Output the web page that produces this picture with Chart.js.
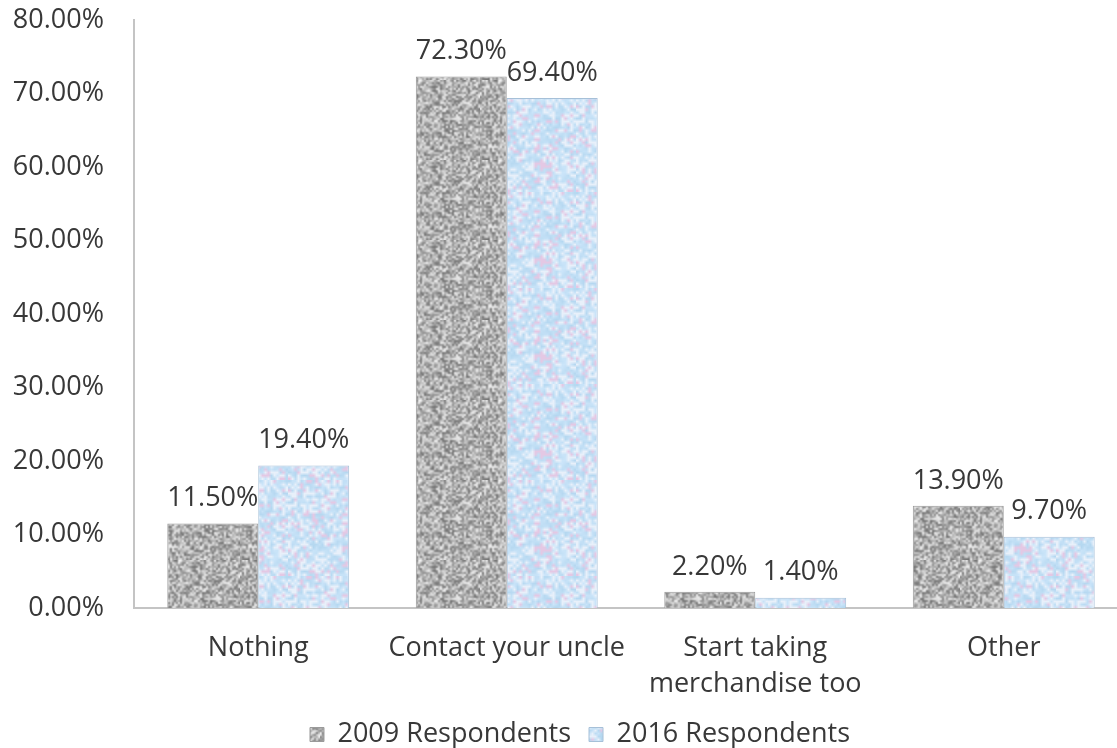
<!DOCTYPE html>
<html>
<head>
<meta charset="utf-8">
<script src="https://cdn.jsdelivr.net/npm/chart.js@4.4.1/dist/chart.umd.min.js"></script>
<style>
    html, body { margin: 0; padding: 0; background: #fff; overflow: hidden; }
    #wrap { width: 1117px; height: 748px; overflow: hidden; }
    canvas { display: block; }
</style>
</head>
<body>
<div id="wrap"><canvas id="grafico" width="1128" height="758"></canvas></div>
<script>
// --- Datos ---
const categorias = ['Nothing', 'Contact your uncle', ['Start taking', 'merchandise too'], 'Other'];
const resp2009 = [11.5, 72.3, 2.2, 13.9];
const resp2016 = [19.4, 69.4, 1.4, 9.7];
const etiquetasSeries = ['2009 Respondents', '2016 Respondents'];
const ejeMin = 0, ejeMax = 80, ejePaso = 10;

const colorTexto = '#383838';
const fuente = "'Open Sans', sans-serif";
const tamFuente = 27;

// generador pseudo-aleatorio con semilla, solo para la textura
function lcg(seed) {
    let s = seed >>> 0;
    return () => { s = (s * 1664525 + 1013904223) >>> 0; return s / 4294967296; };
}

// crea un mosaico: ruido pequeño escalado con suavizado (manchas borrosas)
function textura(seed, celdas, escala, colorDe) {
    const chico = document.createElement('canvas');
    chico.width = celdas; chico.height = celdas;
    const cctx = chico.getContext('2d');
    const rnd = lcg(seed);
    for (let y = 0; y < celdas; y++) {
        for (let x = 0; x < celdas; x++) {
            cctx.fillStyle = colorDe(rnd);
            cctx.fillRect(x, y, 1, 1);
        }
    }
    const c = document.createElement('canvas');
    c.width = celdas * escala; c.height = celdas * escala;
    const ctx = c.getContext('2d');
    ctx.imageSmoothingEnabled = true;
    ctx.drawImage(chico, 0, 0, c.width, c.height);
    return ctx.createPattern(c, 'repeat');
}

// 2009: gris granulado
const patronGris = textura(7, 40, 2, (rnd) => {
    const v = Math.round(115 + rnd() * 125);
    return `rgb(${v},${v},${v})`;
});

// 2016: celeste con manchas blancas y rosadas
const patronCeleste = textura(31, 32, 3, (rnd) => {
    const r = rnd();
    if (r < 0.55) {
        const t = rnd();
        return `rgb(${Math.round(180 + t * 25)},${Math.round(215 + t * 15)},${Math.round(240 + t * 10)})`;
    } else if (r < 0.85) {
        return 'rgb(232,240,250)';
    }
    return 'rgb(228,200,228)';
});

// etiquetas de valor sobre cada barra
const etiquetasBarras = {
    id: 'etiquetasBarras',
    afterDatasetsDraw(chart) {
        const ctx = chart.ctx;
        ctx.save();
        ctx.font = `${tamFuente}px ${fuente}`;
        ctx.fillStyle = colorTexto;
        ctx.textAlign = 'center';
        ctx.textBaseline = 'middle';
        chart.data.datasets.forEach((ds, i) => {
            chart.getDatasetMeta(i).data.forEach((barra, j) => {
                ctx.fillText(ds.data[j].toFixed(2) + '%', barra.x, barra.y - 25);
            });
        });
        ctx.restore();
    }
};

// la leyenda del original está algo corrida a la derecha
const moverLeyenda = {
    id: 'moverLeyenda',
    afterLayout(chart) {
        if (chart.legend) {
            chart.legend.left += 16;
            chart.legend.right += 16;
        }
    }
};

new Chart(document.getElementById('grafico'), {
    type: 'bar',
    data: {
        labels: categorias,
        datasets: [
            {
                label: etiquetasSeries[0],
                data: resp2009,
                backgroundColor: patronGris,
                borderColor: '#9a9a9a',
                borderWidth: 1,
                borderSkipped: 'bottom'
            },
            {
                label: etiquetasSeries[1],
                data: resp2016,
                backgroundColor: patronCeleste,
                borderColor: '#a6c0d8',
                borderWidth: 1,
                borderSkipped: 'bottom'
            }
        ]
    },
    options: {
        responsive: false,
        animation: false,
        devicePixelRatio: 1,
        layout: { padding: { top: 20, left: 0, right: 0, bottom: 0 } },
        datasets: { bar: { categoryPercentage: 0.732, barPercentage: 1.0 } },
        plugins: {
            legend: {
                position: 'bottom',
                labels: {
                    color: colorTexto,
                    font: { family: fuente, size: tamFuente },
                    boxWidth: 14,
                    boxHeight: 14,
                    padding: 18
                }
            },
            tooltip: { enabled: false }
        },
        scales: {
            x: {
                grid: { display: false, drawTicks: false },
                border: { display: true, color: '#c4c4c4', width: 2 },
                ticks: {
                    color: colorTexto,
                    font: { family: fuente, size: tamFuente, lineHeight: 1.33 },
                    padding: 22,
                    maxRotation: 0,
                    autoSkip: false
                },
                afterFit: (escala) => { escala.height = 95; }
            },
            y: {
                min: ejeMin,
                max: ejeMax,
                grid: { display: false, drawTicks: false },
                border: { display: true, color: '#c4c4c4', width: 2 },
                ticks: {
                    stepSize: ejePaso,
                    color: colorTexto,
                    font: { family: fuente, size: tamFuente },
                    padding: 30,
                    callback: (v) => v.toFixed(2) + '%'
                },
                afterFit: (escala) => {
                    escala.width = 134;
                    escala.paddingTop = 0;
                    escala.paddingBottom = 0;
                }
            }
        }
    },
    plugins: [etiquetasBarras, moverLeyenda]
});
</script>
</body>
</html>
